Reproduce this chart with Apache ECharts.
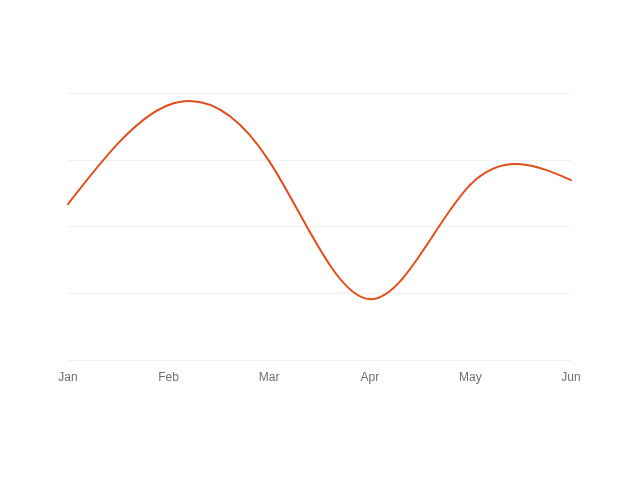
<!DOCTYPE html>
<html>
<head>
<meta charset="utf-8">
<script src="https://cdn.jsdelivr.net/npm/echarts@6/dist/echarts.min.js"></script>
<style>html,body{margin:0;padding:0;background:#fff;}#c{width:640px;height:480px;}</style>
</head>
<body>
<div id="c"></div>
<script>
const months = ['Jan', 'Feb', 'Mar', 'Apr', 'May', 'Jun'];
const values = [58.4, 95.5, 74.5, 22.8, 65.7, 67.4];

// natural cubic spline control points (same as d3.curveNatural), per dimension
function naturalControls(x) {
  const n = x.length - 1;
  const a = new Array(n), b = new Array(n), r = new Array(n);
  let m;
  if (n === 1) return [[(2 * x[0] + x[1]) / 3], [(x[0] + 2 * x[1]) / 3]];
  a[0] = 0; b[0] = 2; r[0] = x[0] + 2 * x[1];
  for (let i = 1; i < n - 1; ++i) { a[i] = 1; b[i] = 4; r[i] = 4 * x[i] + 2 * x[i + 1]; }
  a[n - 1] = 2; b[n - 1] = 7; r[n - 1] = 8 * x[n - 1] + x[n];
  for (let i = 1; i < n; ++i) { m = a[i] / b[i - 1]; b[i] -= m; r[i] -= m * r[i - 1]; }
  a[n - 1] = r[n - 1] / b[n - 1];
  for (let i = n - 2; i >= 0; --i) a[i] = (r[i] - a[i + 1]) / b[i];
  b[n - 1] = (x[n] + a[n - 1]) / 2;
  for (let i = 0; i < n - 1; ++i) b[i] = 2 * x[i + 1] - a[i + 1];
  return [a, b];
}

const chart = echarts.init(document.getElementById('c'));
chart.setOption({
  animation: false,
  grid: { left: 68, right: 69, top: 93, bottom: 120 },
  xAxis: {
    type: 'category',
    data: months,
    boundaryGap: false,
    axisLine: { show: false },
    axisTick: { show: false },
    axisLabel: { color: '#6e7079', fontSize: 12, margin: 12, fontFamily: 'Helvetica, Arial, sans-serif' }
  },
  yAxis: {
    type: 'value',
    min: 0,
    max: 100,
    interval: 25,
    axisLabel: { show: false },
    axisLine: { show: false },
    axisTick: { show: false },
    splitLine: { lineStyle: { color: '#f0f0f0', width: 1 } }
  },
  series: [{
    type: 'custom',
    data: values.map((v, i) => [i, v]),
    encode: { x: 0, y: 1 },
    renderItem: function (params, api) {
      const i = params.dataIndex;
      if (i >= values.length - 1) return null;
      const pts = values.map((v, k) => api.coord([k, v]));
      const cx = naturalControls(pts.map(p => p[0]));
      const cy = naturalControls(pts.map(p => p[1]));
      return {
        type: 'bezierCurve',
        shape: {
          x1: pts[i][0], y1: pts[i][1],
          cpx1: cx[0][i], cpy1: cy[0][i],
          cpx2: cx[1][i], cpy2: cy[1][i],
          x2: pts[i + 1][0], y2: pts[i + 1][1]
        },
        style: { fill: null, stroke: '#e24e1b', lineWidth: 2, lineCap: 'round' }
      };
    }
  }]
});
</script>
</body>
</html>
